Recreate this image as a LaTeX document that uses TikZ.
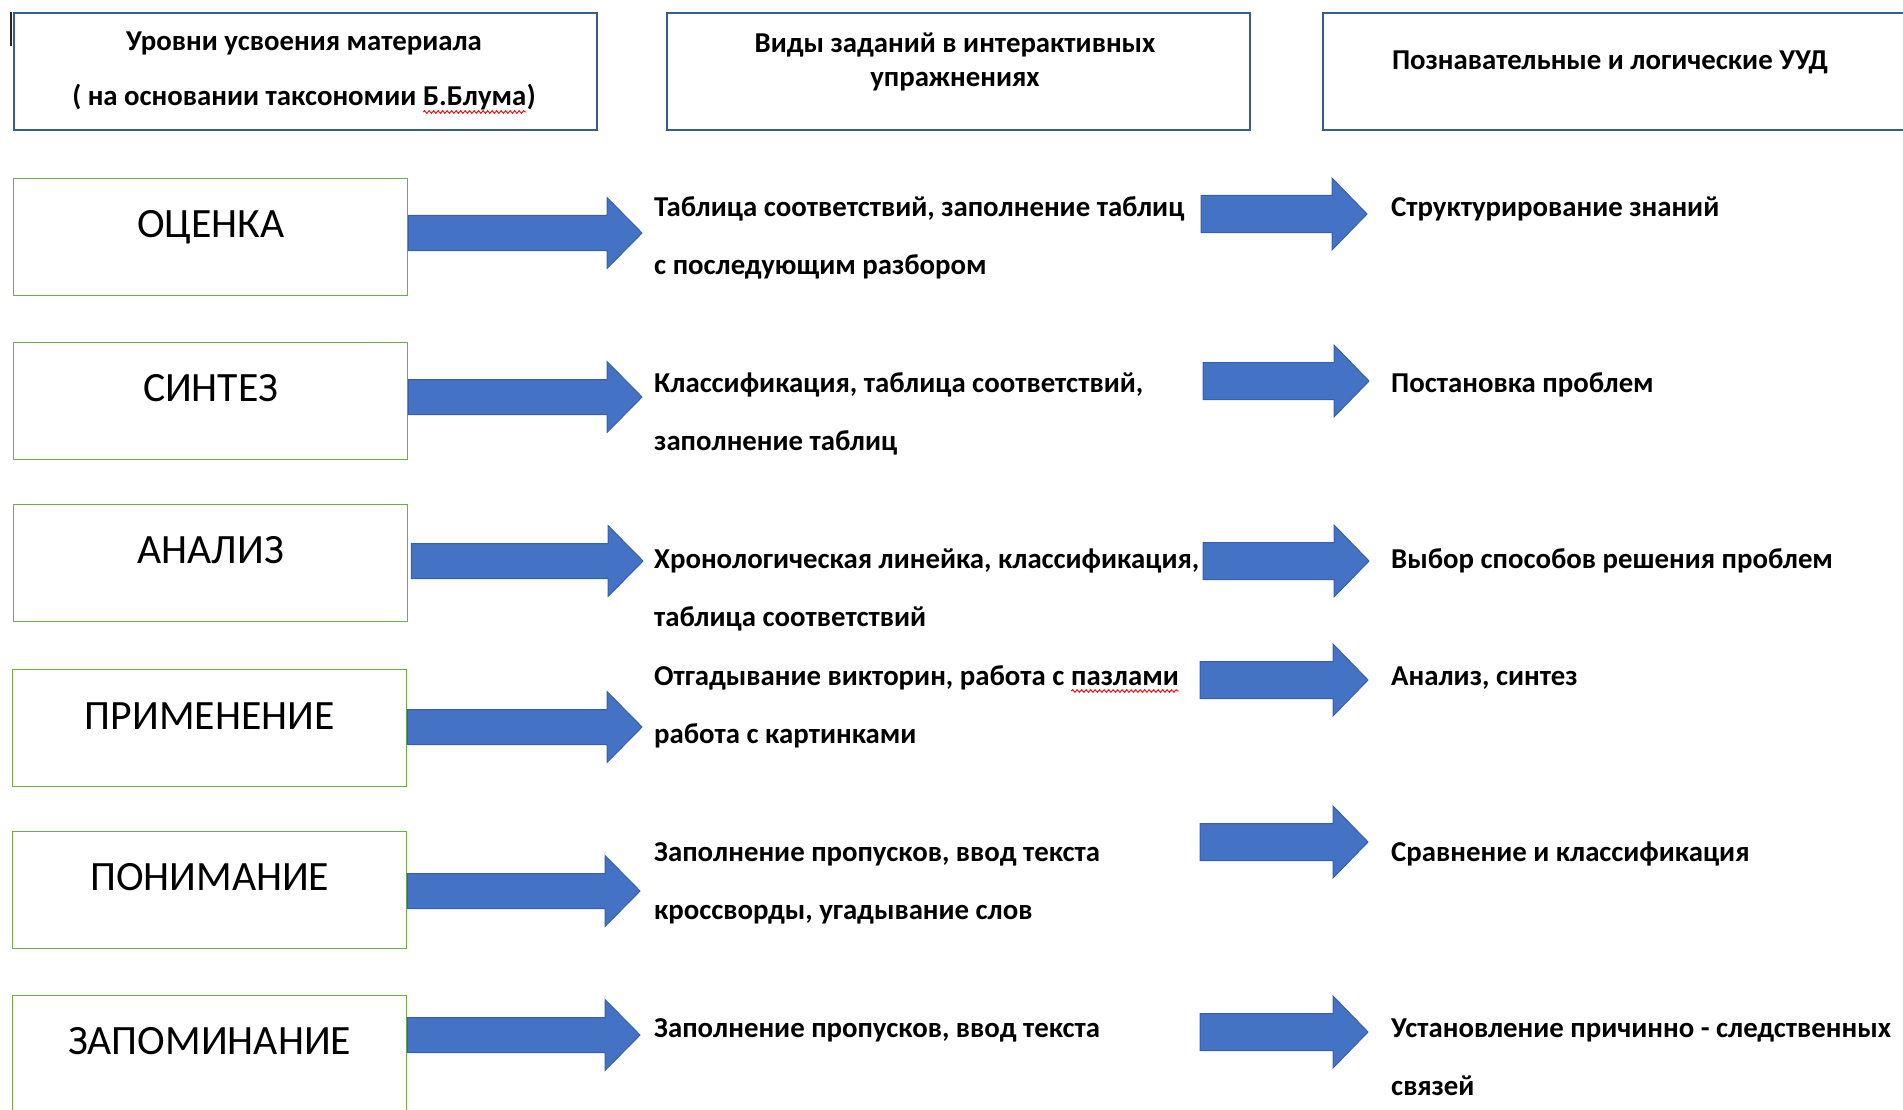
\documentclass[tikz,border=0pt]{standalone}
\usepackage{fontspec}
\setmainfont{Carlito}
\usetikzlibrary{calc,decorations.pathmorphing}
\definecolor{hdr}{HTML}{3A5E8C}
\definecolor{grn}{HTML}{70AD47}
\definecolor{afill}{HTML}{4472C4}
\definecolor{aline}{HTML}{3560AE}
\newcommand\spellerr[1]{\tikz[baseline=(sw.base)]{\node[inner sep=0pt,outer sep=0pt,anchor=base,draw=none](sw){#1};\draw[red,line width=0.9pt,decorate,decoration={snake,amplitude=1.3pt,segment length=4.5pt}]([yshift=-6pt]sw.base west)--([yshift=-6pt]sw.base east);}}
\newcommand\blockarrow[4]{%
  \draw[barrow] ($(#1)+(0,-#3)$) -- ($(#2)+(-35,-#3)$) -- ($(#2)+(-35,-#4)$) -- (#2)
    -- ($(#2)+(-35,#4)$) -- ($(#2)+(-35,#3)$) -- ($(#1)+(0,#3)$) -- cycle;}
\tikzset{
  hbox/.style={draw=hdr,line width=1.6pt,rectangle,inner sep=0pt,minimum height=117pt,anchor=north west},
  lbox/.style={draw=grn,line width=1.4pt,rectangle,inner sep=0pt,minimum width=394pt,minimum height=117pt,anchor=north west},
  lvl/.style={inner sep=0pt,anchor=base,font=\fontsize{41.7pt}{48pt}\selectfont},
  htext/.style={inner sep=0pt,anchor=base,font=\fontsize{28.8pt}{34pt}\selectfont\bfseries},
  mtext/.style={inner sep=0pt,anchor=base west,font=\fontsize{28.8pt}{34pt}\selectfont\bfseries},
  barrow/.style={fill=afill,draw=aline,line width=1pt,line join=miter}
}
\begin{document}
\begin{tikzpicture}[x=1pt,y=-1pt]
\useasboundingbox (0,0) rectangle (1903,1110);
% cursor mark
\draw[line width=2pt,black!85] (11,12) -- (11,46);
% header boxes
\node[hbox,minimum width=583pt] (h1) at (13,12) {};
\node[hbox,minimum width=583pt] (h2) at (666,12) {};
\node[hbox,minimum width=593pt] (h3) at (1322,12) {};
\node[htext] (h1a) at (304,51) {Уровни усвоения материала};
\node[htext] (h1b) at (304,106) {( на основании таксономии \spellerr{Б.Блума})};
\node[htext] (h2a) at (955,53) {Виды заданий в интерактивных};
\node[htext] (h2b) at (955,87) {упражнениях};
\node[htext] (h3a) at (1610,70) {Познавательные и логические УУД};
% level boxes
\node[lbox] (o1) at (13,178) {};
\node[lbox] (o2) at (13,342) {};
\node[lbox] (o3) at (13,504) {};
\node[lbox] (o4) at (12,669) {};
\node[lbox] (o5) at (12,831) {};
\node[lbox,minimum height=130pt] (o6) at (12,995) {};
\node[lvl] (l1) at (o1.center |- 0,237) {ОЦЕНКА};
\node[lvl] (l2) at (o2.center |- 0,401) {СИНТЕЗ};
\node[lvl] (l3) at (o3.center |- 0,563) {АНАЛИЗ};
\node[lvl] (l4) at (o4.center |- 0,729) {ПРИМЕНЕНИЕ};
\node[lvl] (l5) at (o5.center |- 0,890) {ПОНИМАНИЕ};
\node[lvl] (l6) at (o6.center |- 0,1054) {ЗАПОМИНАНИЕ};
% middle texts
\node[mtext] (m1a) at (654,216) {Таблица соответствий, заполнение таблиц};
\node[mtext] (m1b) at (654,274) {с последующим разбором};
\node[mtext] (m2a) at (654,392) {Классификация, таблица соответствий,};
\node[mtext] (m2b) at (654,450) {заполнение таблиц};
\node[mtext] (m3a) at (654,568) {Хронологическая линейка, классификация,};
\node[mtext] (m3b) at (654,626) {таблица соответствий};
\node[mtext] (m4a) at (654,685) {Отгадывание викторин, работа с \spellerr{пазлами}};
\node[mtext] (m4b) at (654,743) {работа с картинками};
\node[mtext] (m5a) at (654,861) {Заполнение пропусков, ввод текста};
\node[mtext] (m5b) at (654,919) {кроссворды, угадывание слов};
\node[mtext] (m6a) at (654,1037) {Заполнение пропусков, ввод текста};
% right texts
\node[mtext] (r1) at (1391,216) {Структурирование знаний};
\node[mtext] (r2) at (1391,392) {Постановка проблем};
\node[mtext] (r3) at (1391,568) {Выбор способов решения проблем};
\node[mtext] (r4) at (1391,685) {Анализ, синтез};
\node[mtext] (r5) at (1391,861) {Сравнение и классификация};
\node[mtext] (r6a) at (1391,1037) {Установление причинно - следственных};
\node[mtext] (r6b) at (1391,1095) {связей};
% arrow coordinates
\coordinate (t1) at (642,233);
\coordinate (t2) at (642,397);
\coordinate (t3) at (643,561);
\coordinate (t4) at (642,727);
\coordinate (t5) at (640,891);
\coordinate (t6) at (640,1035);
\path (o1.east |- t1) coordinate (s1);
\path (o2.east |- t2) coordinate (s2);
\path ([xshift=3pt]o3.east |- t3) coordinate (s3);
\path (o4.east |- t4) coordinate (s4);
\path (o5.east |- t5) coordinate (s5);
\path (o6.east |- t6) coordinate (s6);
\coordinate (u1) at (1201,214);  \coordinate (v1) at (1367,214);
\coordinate (u2) at (1203,381);  \coordinate (v2) at (1369,381);
\coordinate (u3) at (1203,561);  \coordinate (v3) at (1369,561);
\coordinate (u4) at (1200,680);  \coordinate (v4) at (1368,680);
\coordinate (u5) at (1200,842);  \coordinate (v5) at (1368,842);
\coordinate (u6) at (1200,1032); \coordinate (v6) at (1368,1032);
\foreach \i in {1,...,6}{
  \blockarrow{s\i}{t\i}{17.5}{35.5}
  \blockarrow{u\i}{v\i}{18.5}{36}
}
\end{tikzpicture}
\end{document}
